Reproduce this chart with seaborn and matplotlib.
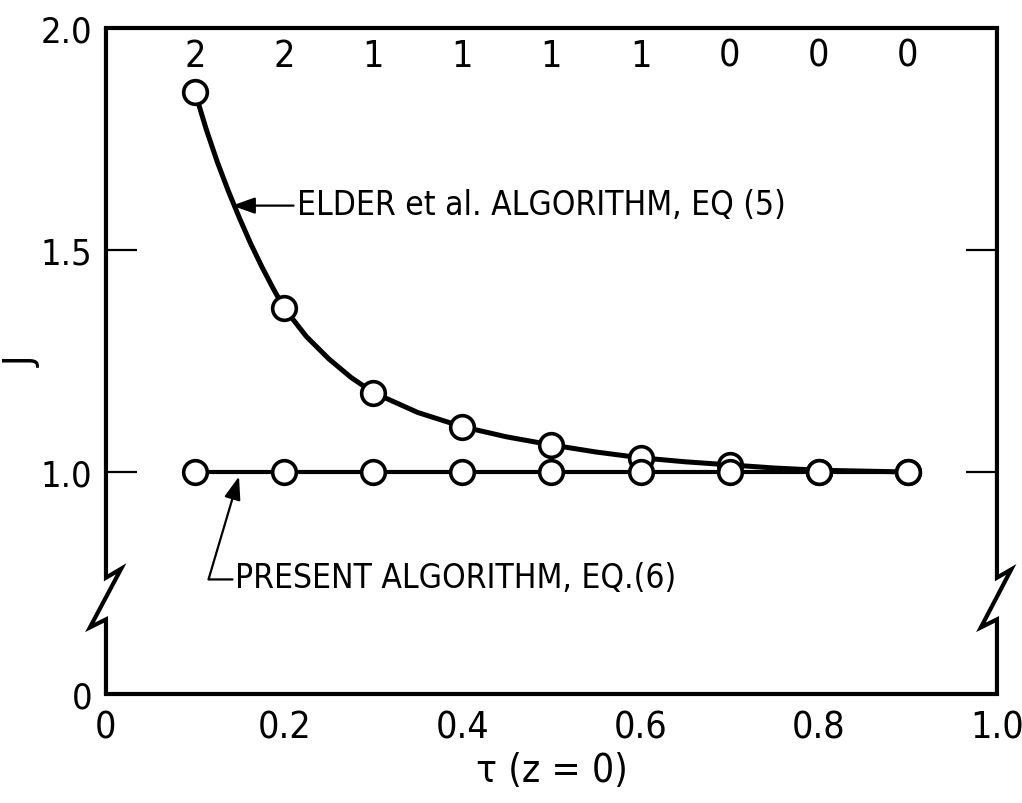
import matplotlib
matplotlib.use("Agg")
import matplotlib.pyplot as plt
import seaborn as sns

# values
tau = [0.1, 0.2, 0.3, 0.4, 0.5, 0.6, 0.7, 0.8, 0.9]
j_elder = [1.855, 1.369, 1.179, 1.102, 1.061, 1.032, 1.016, 1.0, 1.0]
j_present = [1.0, 1.0, 1.0, 1.0, 1.0, 1.0, 1.0, 1.0, 1.0]
top_counts = ["2", "2", "1", "1", "1", "1", "0", "0", "0"]

# extra points (between markers)
elder_curve_x = [0.1, 0.1125, 0.125, 0.1375, 0.15, 0.1625, 0.175, 0.1875, 0.2, 0.225, 0.25, 0.275,
                 0.3, 0.35, 0.4, 0.45, 0.5, 0.55, 0.6, 0.65, 0.7, 0.75, 0.8, 0.9]
elder_curve_y = [1.855, 1.772, 1.698, 1.632, 1.571, 1.514, 1.462, 1.414, 1.369, 1.305, 1.255, 1.213,
                 1.179, 1.134, 1.102, 1.079, 1.061, 1.045, 1.032, 1.023, 1.016, 1.009, 1.004, 1.0]

x_ticks = [0, 0.2, 0.4, 0.6, 0.8, 1.0]
x_ticklabels = ["0", "0.2", "0.4", "0.6", "0.8", "1.0"]
y_ticks = [0.5, 1.0, 1.5, 2.0]
y_ticklabels = ["0", "1.0", "1.5", "2.0"]

sns.set_theme(style="white")
plt.rcParams['font.family'] = ['Liberation Sans Narrow', 'DejaVu Sans']
plt.rcParams['font.stretch'] = 'condensed'
plt.rcParams['text.color'] = 'black'
plt.rcParams['axes.labelcolor'] = 'black'

fig = plt.figure(figsize=(10.22, 8.04), dpi=100)
ax = fig.add_axes([0.1037, 0.1356, 0.8718, 0.8283])

lw = 3.6
sns.lineplot(x=elder_curve_x, y=elder_curve_y, sort=False, color="black", linewidth=lw, ax=ax, zorder=2)
sns.lineplot(x=tau, y=j_present, color="black", linewidth=3.0, ax=ax, zorder=2)

marker_kw = dict(marker="o", s=290, facecolor="white", edgecolor="black", linewidth=2.6, zorder=3, ax=ax)
sns.scatterplot(x=tau, y=j_elder, **marker_kw)
sns.scatterplot(x=tau, y=j_present, **marker_kw)

ax.set_xlim(0, 1.0)
ax.set_ylim(0.5, 2.0)
ax.set_xticks(x_ticks)
ax.set_xticklabels(x_ticklabels)
ax.set_yticks(y_ticks)
ax.set_yticklabels(y_ticklabels)
ax.tick_params(axis="x", direction="in", length=21, width=1.6, pad=11, labelsize=27, colors="black")
ax.tick_params(axis="y", direction="in", length=22, width=1.6, pad=10, labelsize=26,
               left=True, right=True, colors="black")

ax.set_xlabel("τ (z = 0)", fontsize=28, labelpad=4)
ax.set_ylabel("J", fontsize=28)
ax.yaxis.set_label_coords(-0.072, 0.5)

# counts along the top
top_tr = ax.get_xaxis_transform()
for x, c in zip(tau, top_counts):
    ax.text(x, 0.958, c, transform=top_tr, ha="center", va="center", fontsize=27)

# axis frame with break marks on both sides
for s in ["left", "right"]:
    ax.spines[s].set_visible(False)
for s in ["top", "bottom"]:
    ax.spines[s].set_linewidth(3.0)
    ax.spines[s].set_color("black")
frame_kw = dict(transform=ax.transAxes, color="black", linewidth=3.0, clip_on=False,
                solid_joinstyle="miter", zorder=4)
ax.plot([0, 0, 0.017, -0.018, 0, 0], [1, 0.1746, 0.188, 0.100, 0.112, 0], **frame_kw)
ax.plot([1, 1, 1.016, 0.982, 1, 1], [1, 0.1746, 0.187, 0.100, 0.112, 0], **frame_kw)

# annotations
arrow = dict(arrowstyle="-|>,head_length=0.7,head_width=0.25", color="black", lw=1.6,
             mutation_scale=20, shrinkA=0, shrinkB=0)
ax.text(0.2144, 1.602, "ELDER et al. ALGORITHM, EQ (5)", ha="left", va="center", fontsize=24)
ax.annotate("", xy=(0.1415, 1.60), xytext=(0.2105, 1.60), arrowprops=arrow)

ax.text(0.1448, 0.7625, "PRESENT ALGORITHM, EQ.(6)", ha="left", va="center", fontsize=24)
ax.annotate("", xy=(0.1493, 0.99), xytext=(0.142, 0.758),
            arrowprops=dict(arrow, connectionstyle="angle,angleA=180,angleB=73.5,rad=0"))

fig.savefig("out.png", dpi=100)
